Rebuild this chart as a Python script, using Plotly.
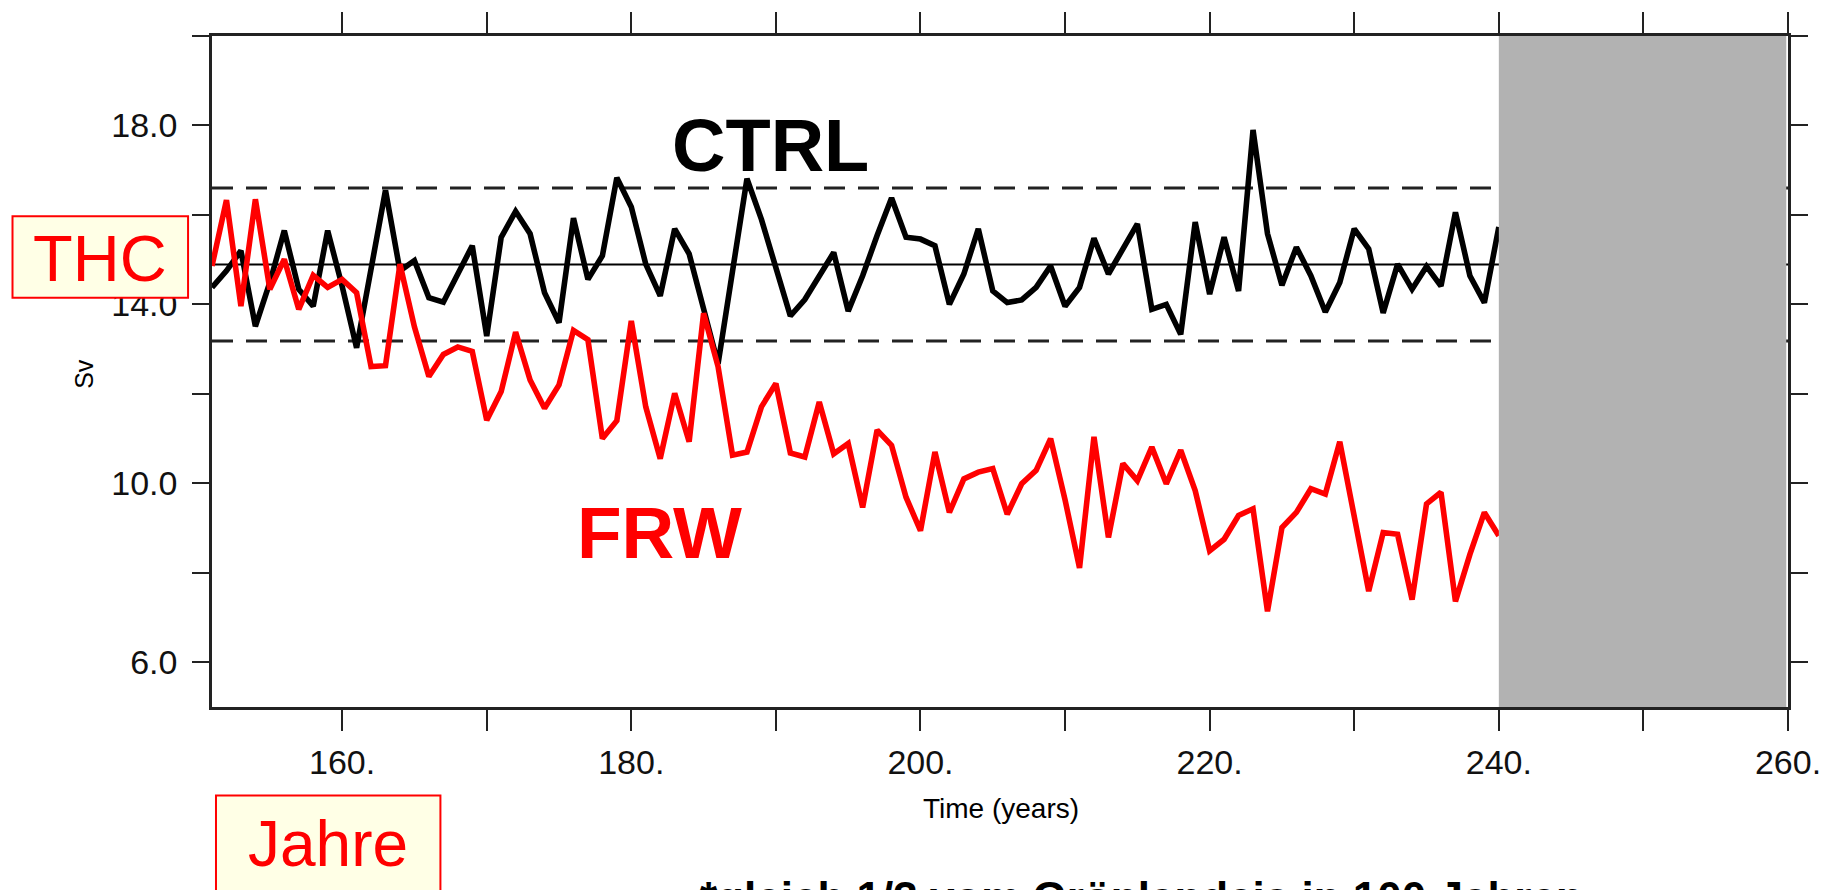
import plotly.graph_objects as go

# ---------------- data ----------------
years = list(range(151, 241))

ctrl = [14.38, 14.75, 15.20, 13.51, 14.49, 15.65, 14.34, 13.96, 15.65, 14.41,
        13.03, 14.83, 16.55, 14.75, 14.98, 14.15, 14.05, 14.68, 15.31, 13.29,
        15.50, 16.08, 15.58, 14.26, 13.59, 15.93, 14.56, 15.09, 16.83, 16.18,
        14.90, 14.19, 15.69, 15.13, 13.89, 12.67, 14.74, 16.81, 15.90, 14.85,
        13.74, 14.11, 14.64, 15.16, 13.85, 14.64, 15.54, 16.38, 15.50, 15.46,
        15.31, 14.00, 14.68, 15.69, 14.30, 14.04, 14.10, 14.38, 14.86, 13.96,
        14.38, 15.48, 14.68, 15.24, 15.80, 13.89, 14.00, 13.33, 15.84, 14.23,
        15.50, 14.30, 17.90, 15.58, 14.43, 15.28, 14.64, 13.83, 14.49, 15.69,
        15.24, 13.81, 14.90, 14.34, 14.85, 14.41, 16.06, 14.64, 14.04, 15.73]

frw = [14.86, 16.33, 13.96, 16.35, 14.34, 15.01, 13.89, 14.65, 14.38, 14.56,
       14.26, 12.61, 12.63, 14.90, 13.50, 12.39, 12.88, 13.05, 12.95, 11.41,
       12.05, 13.38, 12.31, 11.68, 12.20, 13.42, 13.21, 11.00, 11.40, 13.63,
       11.71, 10.55, 12.01, 10.93, 13.80, 12.61, 10.63, 10.70, 11.71, 12.23,
       10.68, 10.59, 11.82, 10.66, 10.89, 9.46, 11.19, 10.85, 9.69, 8.94,
       10.70, 9.35, 10.10, 10.25, 10.33, 9.31, 9.99, 10.29, 11.00, 9.63,
       8.11, 11.04, 8.79, 10.44, 10.06, 10.81, 9.99, 10.74, 9.84, 8.49,
       8.75, 9.28, 9.43, 7.14, 9.01, 9.35, 9.88, 9.76, 10.93, 9.28,
       7.59, 8.90, 8.86, 7.40, 9.54, 9.80, 7.36, 8.41, 9.35, 8.83]

ctrl_mean = 14.89
ctrl_band = [16.60, 13.18]          # dashed lines (mean +/- spread)
masked_years = [240, 260]           # grey box

x_range = [151, 260]
y_range = [5, 20]
x_tickvals = [160, 170, 180, 190, 200, 210, 220, 230, 240, 250, 260]
x_ticktext = ["160.", "", "180.", "", "200.", "", "220.", "", "240.", "", "260."]
y_tickvals = [6, 8, 10, 12, 14, 16, 18, 20]
y_ticktext = ["6.0", "", "10.0", "", "14.0", "", "18.0", ""]

# ---------------- layout helpers (pixel -> paper) ----------------
W, H = 1833, 890
L, R, T, B = 212, 1792, 33, 707


def px(x):
    return (x - L) / (R - L)


def py(y):
    return (B - y) / (B - T)


FONT = "Liberation Sans, Arial, sans-serif"

fig = go.Figure()

# mean and band lines
fig.add_trace(go.Scatter(x=x_range, y=[ctrl_mean, ctrl_mean], mode="lines",
                         line=dict(color="black", width=2), showlegend=False,
                         hoverinfo="skip"))
for v in ctrl_band:
    fig.add_trace(go.Scatter(x=x_range, y=[v, v], mode="lines",
                             line=dict(color="#222222", width=3, dash="21px,13px"),
                             showlegend=False, hoverinfo="skip"))

fig.add_trace(go.Scatter(x=years, y=ctrl, mode="lines", name="CTRL",
                         line=dict(color="black", width=5.6), showlegend=False))
fig.add_trace(go.Scatter(x=years, y=frw, mode="lines", name="FRW",
                         line=dict(color="#ff0000", width=5.6), showlegend=False))

# grey mask
fig.add_shape(type="rect", xref="x", yref="y",
              x0=masked_years[0], x1=masked_years[1] - 0.12, y0=y_range[0], y1=y_range[1],
              fillcolor="#b2b2b2", line=dict(width=0), layer="above")

# THC box
fig.add_shape(type="rect", xref="paper", yref="paper",
              x0=px(12), x1=px(188), y0=py(296), y1=py(214),
              fillcolor="#ffffe6", line=dict(color="#ff0000", width=2), layer="above")
# Jahre box
fig.add_shape(type="rect", xref="paper", yref="paper",
              x0=px(216), x1=px(441), y0=py(905), y1=py(796),
              fillcolor="#ffffe6", line=dict(color="#ff0000", width=2), layer="above")

ann = []
ann.append(dict(text="<b>CTRL</b>", x=px(772), y=py(143), font=dict(size=74, color="black", family=FONT)))
ann.append(dict(text="<b>FRW</b>", x=px(661), y=py(532), font=dict(size=73, color="#ff0000", family=FONT)))
ann.append(dict(text="THC", x=px(100), y=py(256), font=dict(size=65, color="#ff0000", family=FONT)))
ann.append(dict(text="Jahre", x=px(328), y=py(845), font=dict(size=64, color="#ff0000", family=FONT)))
ann.append(dict(text="Sv", x=px(84), y=py(372), textangle=-90, font=dict(size=25, color="black", family=FONT)))
ann.append(dict(text="Time (years)", x=px(1003), y=py(809), font=dict(size=28, color="black", family=FONT)))
for a in ann:
    a.update(xref="paper", yref="paper", xanchor="center", yanchor="middle", showarrow=False)
ann.append(dict(text="<b>*gleich 1/3 vom Grönlandeis in 100 Jahren</b>", x=px(699), y=py(872),
                xref="paper", yref="paper", xanchor="left", yanchor="top", showarrow=False,
                font=dict(size=44, color="black", family=FONT)))

fig.update_layout(
    width=W, height=H, autosize=False,
    margin=dict(l=L, r=W - R, t=T, b=H - B, pad=0),
    paper_bgcolor="white", plot_bgcolor="white",
    annotations=ann,
    showlegend=False,
)

fig.update_xaxes(range=x_range, tickmode="array", tickvals=x_tickvals, ticktext=x_ticktext,
                 ticks="outside", ticklen=21, tickwidth=2, tickcolor="#222222",
                 showline=True, linecolor="#222222", linewidth=2.5, mirror="ticks",
                 showgrid=False, zeroline=False,
                 tickfont=dict(size=34, color="#111111", family=FONT), ticklabelstandoff=2)
fig.update_yaxes(range=y_range, tickmode="array", tickvals=y_tickvals, ticktext=y_ticktext,
                 ticks="outside", ticklen=17, tickwidth=2, tickcolor="#222222",
                 showline=True, linecolor="#222222", linewidth=2.5, mirror="ticks",
                 showgrid=False, zeroline=False,
                 tickfont=dict(size=34, color="#111111", family=FONT), ticklabelstandoff=8)

fig.write_html("out.html", config={"displayModeBar": False},
               post_script="document.body.style.margin='0px';document.body.style.overflow='hidden';")
